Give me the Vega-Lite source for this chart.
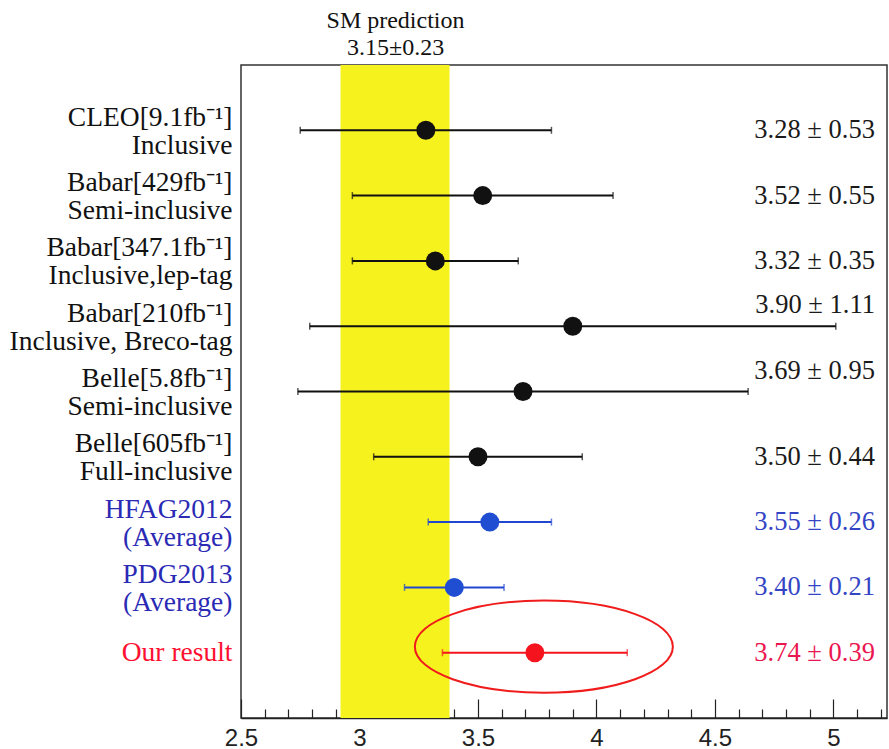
{
  "$schema": "https://vega.github.io/schema/vega-lite/v6.json",
  "width": 646,
  "height": 653,
  "autosize": {"type": "none"},
  "padding": {"left": 241, "top": 65, "right": 2, "bottom": 31},
  "background": "white",
  "config": {
    "view": {"stroke": "#333333", "strokeWidth": 1.5},
    "axis": {"grid": false, "title": null},
    "axisTop": {"labelFont": "Liberation Serif"}
  },
  "datasets": {
    "rows": [
      {"label": "CLEO[9.1fb⁻¹]|Inclusive", "value": 3.28, "lo": 2.75, "hi": 3.81, "group": "exp", "note": "3.28 ± 0.53"},
      {"label": "Babar[429fb⁻¹]|Semi-inclusive", "value": 3.52, "lo": 2.97, "hi": 4.07, "group": "exp", "note": "3.52 ± 0.55"},
      {"label": "Babar[347.1fb⁻¹]|Inclusive,lep-tag", "value": 3.32, "lo": 2.97, "hi": 3.67, "group": "exp", "note": "3.32 ± 0.35"},
      {"label": "Babar[210fb⁻¹]|Inclusive, Breco-tag", "value": 3.9, "lo": 2.79, "hi": 5.01, "group": "exp", "note": "3.90 ± 1.11"},
      {"label": "Belle[5.8fb⁻¹]|Semi-inclusive", "value": 3.69, "lo": 2.74, "hi": 4.64, "group": "exp", "note": "3.69 ± 0.95"},
      {"label": "Belle[605fb⁻¹]|Full-inclusive", "value": 3.5, "lo": 3.06, "hi": 3.94, "group": "exp", "note": "3.50 ± 0.44"},
      {"label": "HFAG2012|(Average)", "value": 3.55, "lo": 3.29, "hi": 3.81, "group": "avg", "note": "3.55 ± 0.26"},
      {"label": "PDG2013|(Average)", "value": 3.4, "lo": 3.19, "hi": 3.61, "group": "avg", "note": "3.40 ± 0.21"},
      {"label": "Our result", "value": 3.74, "lo": 3.35, "hi": 4.13, "group": "our", "note": "3.74 ± 0.39"}
    ],
    "sm": [{"name": "SM prediction", "center": 3.15, "lo": 2.92, "hi": 3.38}],
    "mark": [{"label": "Our result", "center": 3.778}]
  },
  "resolve": {"axis": {"x": "independent"}},
  "layer": [
    {
      "data": {"name": "sm"},
      "mark": {"type": "rect", "color": "#f6f21e"},
      "encoding": {
        "x": {
          "field": "lo", "type": "quantitative",
          "scale": {"domain": [2.5, 5.226], "nice": false, "zero": false},
          "axis": {"orient": "top", "values": [3.15], "ticks": false, "tickSize": 0, "domain": false,
                   "labelExpr": "['SM prediction', '3.15±0.23']", "labelFont": "Liberation Serif",
                   "labelFontSize": 24, "labelLineHeight": 27, "labelColor": "#111111", "labelPadding": 33, "labelBound": false}
        },
        "x2": {"field": "hi"}
      }
    },
    {
      "data": {"name": "rows"},
      "mark": {"type": "rule", "strokeWidth": 2},
      "encoding": {
        "y": {
          "field": "label", "type": "ordinal",
          "scale": {"type": "point", "padding": 1, "domain": ["CLEO[9.1fb⁻¹]|Inclusive", "Babar[429fb⁻¹]|Semi-inclusive", "Babar[347.1fb⁻¹]|Inclusive,lep-tag", "Babar[210fb⁻¹]|Inclusive, Breco-tag", "Belle[5.8fb⁻¹]|Semi-inclusive", "Belle[605fb⁻¹]|Full-inclusive", "HFAG2012|(Average)", "PDG2013|(Average)", "Our result"]},
          "axis": {"ticks": false, "domain": false, "labelExpr": "split(datum.value, '|')", "labelFont": "Liberation Serif",
                   "labelFontSize": 27.5, "labelLineHeight": 28, "labelPadding": 9, "labelLimit": 400, "labelOverlap": false, "labelBound": false,
                   "labelOffset": {"condition": {"test": "datum.value == 'Our result'", "value": 0}, "value": -13},
                   "labelColor": {"condition": [{"test": "datum.value == 'Our result'", "value": "#ff1030"}, {"test": "indexof(datum.value, 'Average') >= 0", "value": "#2b2ab5"}], "value": "#111111"}}
        },
        "x": {
          "field": "lo", "type": "quantitative",
          "axis": {"orient": "bottom", "values": [2.5, 3, 3.5, 4, 4.5, 5], "format": "~g", "tickSize": -19, "tickColor": "#222222", "tickWidth": 1.2,
                   "domainColor": "#222222", "domainWidth": 1.5, "labelFont": "Liberation Sans", "labelFontSize": 24, "labelColor": "#222222",
                   "labelPadding": 27, "labelFlush": false, "labelBound": false}
        },
        "x2": {"field": "hi"},
        "color": {"condition": [{"test": "datum.group == 'our'", "value": "#f5141e"}, {"test": "datum.group == 'avg'", "value": "#2146d0"}], "value": "#111111"}
      }
    },
    {
      "data": {"name": "rows"},
      "mark": {"type": "tick", "thickness": 1.5, "size": 7},
      "encoding": {
        "y": {"field": "label", "type": "ordinal"},
        "x": {
          "field": "lo", "type": "quantitative",
          "axis": {"orient": "bottom", "values": [2.6, 2.7, 2.8, 2.9, 3.1, 3.2, 3.3, 3.4, 3.6, 3.7, 3.8, 3.9, 4.1, 4.2, 4.3, 4.4, 4.6, 4.7, 4.8, 4.9, 5.1, 5.2],
                   "tickSize": -9, "tickColor": "#222222", "tickWidth": 1.2, "labels": false, "domain": false}
        },
        "color": {"condition": [{"test": "datum.group == 'our'", "value": "#f5141e"}, {"test": "datum.group == 'avg'", "value": "#2146d0"}], "value": "#111111"}
      }
    },
    {
      "data": {"name": "rows"},
      "mark": {"type": "tick", "thickness": 1.5, "size": 7},
      "encoding": {
        "y": {"field": "label", "type": "ordinal"},
        "x": {"field": "hi", "type": "quantitative", "axis": null},
        "color": {"condition": [{"test": "datum.group == 'our'", "value": "#f5141e"}, {"test": "datum.group == 'avg'", "value": "#2146d0"}], "value": "#111111"}
      }
    },
    {
      "data": {"name": "rows"},
      "mark": {"type": "point", "filled": true, "opacity": 1, "size": 360},
      "encoding": {
        "y": {"field": "label", "type": "ordinal"},
        "x": {"field": "value", "type": "quantitative", "axis": null},
        "color": {"condition": [{"test": "datum.group == 'our'", "value": "#f5141e"}, {"test": "datum.group == 'avg'", "value": "#1f4ed3"}], "value": "#111111"}
      }
    },
    {
      "data": {"name": "rows"},
      "transform": [{"filter": "indexof(datum.label, 'Babar[210') < 0 && indexof(datum.label, 'Belle[5.8') < 0"}],
      "mark": {"type": "text", "align": "right", "baseline": "middle", "font": "Liberation Serif", "fontSize": 26.5},
      "encoding": {
        "y": {"field": "label", "type": "ordinal"},
        "x": {"datum": 5.175, "type": "quantitative", "axis": null},
        "text": {"field": "note"},
        "color": {"condition": [{"test": "datum.group == 'our'", "value": "#ea1650"}, {"test": "datum.group == 'avg'", "value": "#3344c4"}], "value": "#1a1a1a"}
      }
    },
    {
      "data": {"name": "rows"},
      "transform": [{"filter": "indexof(datum.label, 'Babar[210') >= 0 || indexof(datum.label, 'Belle[5.8') >= 0"}],
      "mark": {"type": "text", "align": "right", "baseline": "middle", "font": "Liberation Serif", "fontSize": 26.5, "dy": -21},
      "encoding": {
        "y": {"field": "label", "type": "ordinal"},
        "x": {"datum": 5.175, "type": "quantitative", "axis": null},
        "text": {"field": "note"},
        "color": {"value": "#1a1a1a"}
      }
    },
    {
      "data": {"name": "mark"},
      "mark": {"type": "point", "filled": false, "size": 66564, "strokeWidth": 2, "opacity": 1,
               "shape": "M1,-0.047 C1,0.15 0.552,0.31 0,0.31 C-0.552,0.31 -1,0.15 -1,-0.047 C-1,-0.244 -0.552,-0.404 0,-0.404 C0.552,-0.404 1,-0.244 1,-0.047 Z"},
      "encoding": {
        "y": {"field": "label", "type": "ordinal"},
        "x": {"field": "center", "type": "quantitative", "axis": null},
        "color": {"value": "#f01c1c"}
      }
    }
  ]
}
